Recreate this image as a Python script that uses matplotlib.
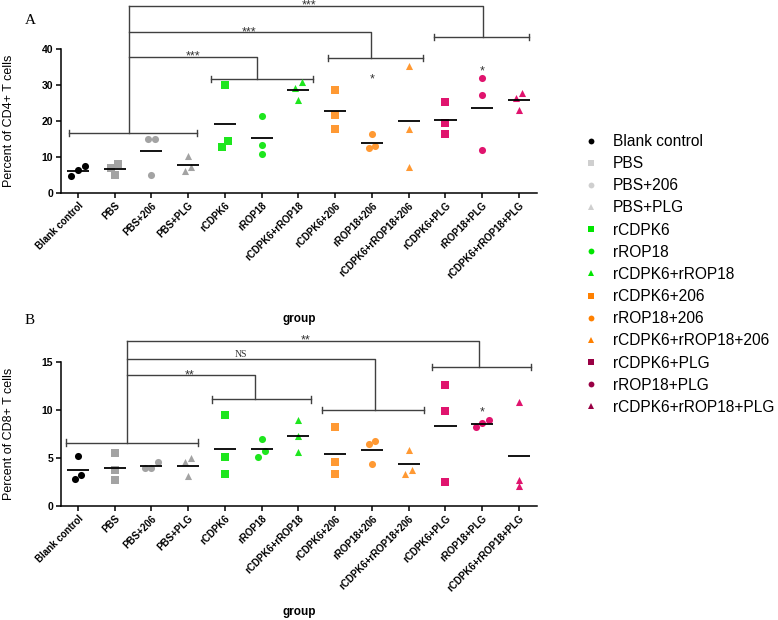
import matplotlib.pyplot as plt
import numpy as np
from matplotlib.lines import Line2D

plt.rcParams['font.family'] = ['Liberation Sans', 'DejaVu Sans']

groups = ['Blank control', 'PBS', 'PBS+206', 'PBS+PLG', 'rCDPK6', 'rROP18',
          'rCDPK6+rROP18', 'rCDPK6+206', 'rROP18+206', 'rCDPK6+rROP18+206',
          'rCDPK6+PLG', 'rROP18+PLG', 'rCDPK6+rROP18+PLG']

# percent of CD4+ T cells, 3 mice per group
cd4 = [[4.7, 6.3, 7.4], [5.0, 6.85, 8.1], [5.1, 14.9, 14.9], [6.2, 7.1, 10.2],
       [12.8, 14.4, 30.0], [10.9, 13.3, 21.4], [25.8, 29.3, 30.7],
       [17.8, 21.8, 28.6], [12.4, 13.1, 16.3], [7.3, 17.7, 35.4],
       [16.3, 19.5, 25.4], [12.0, 27.3, 31.9], [23.1, 26.5, 27.9]]

# percent of CD8+ T cells
cd8 = [[2.8, 3.2, 5.2], [2.7, 3.76, 5.5], [4.0, 4.0, 4.6], [3.1, 4.55, 5.0],
       [3.3, 5.1, 9.5], [5.1, 5.7, 7.0], [5.6, 7.27, 9.0],
       [3.37, 4.55, 8.2], [4.38, 6.5, 6.75], [3.3, 3.8, 5.88],
       [2.47, 9.9, 12.6], [8.2, 8.6, 8.94], [2.1, 2.75, 10.8]]

# group brackets (x from, x to, y) - first one is the control bracket
brackets_a = [(-0.25, 3.25, 16.7), (3.62, 6.39, 31.6), (6.80, 9.39, 37.5),
              (9.69, 12.27, 43.3)]
# links from the control stem: (x of drop, y, label, label x)
links_a = [(4.87, 37.8, '***', 3.13), (7.97, 44.7, '***', 4.65),
           (11.02, 52.0, '***', 6.3)]
stars_a = [(8, 31.6), (11, 33.8)]

brackets_b = [(-0.33, 3.26, 6.6), (3.65, 6.34, 11.1), (6.63, 9.41, 10.0),
              (9.64, 12.32, 14.5)]
links_b = [(4.82, 13.6, '**', 3.05), (8.09, 15.3, 'NS', 4.43),
           (10.9, 17.2, '**', 6.2)]
stars_b = [(11, 9.7)]

markers = ['o', 's', 'o', '^'] + ['s', 'o', '^'] * 3
colors = ['black'] + ['#a3a3a3'] * 3 + ['#1ee61e'] * 3 + ['#ff9933'] * 3 \
    + ['#e0146e'] * 3
legend_colors = ['black'] + ['#cfcfcf'] * 3 + ['#00e600'] * 3 \
    + ['#ff8000'] * 3 + ['#990044'] * 3


def swarm(vals, gap, step=0.18):
    # spread points that would overlap, like a prism scatter
    order = np.argsort(vals)
    v = np.asarray(vals)[order]
    offs = np.zeros(len(v))
    start = 0
    for k in range(1, len(v) + 1):
        if k == len(v) or v[k] - v[k - 1] > gap:
            n = k - start
            offs[start:k] = (np.arange(n) - (n - 1) / 2) * step
            start = k
    out = np.empty(len(v))
    out[order] = offs
    return out


def panel(ax, data, top, yticks, ylabel, gap, brackets, links, stars,
          xlab_y):
    for i, vals in enumerate(data):
        x = i + swarm(vals, gap)
        ax.scatter(x, vals, marker=markers[i], color=colors[i], s=26,
                   linewidths=0, zorder=3, clip_on=False)
        ax.hlines(np.mean(vals), i - 0.3, i + 0.3, color='black', lw=1.3,
                  zorder=4)

    ax.set_xlim(-0.46, 12.49)
    ax.set_ylim(0, top)
    ax.set_yticks(yticks)
    ax.set_xticks(range(len(groups)))
    ax.set_xticklabels(groups, rotation=45, ha='right',
                       rotation_mode='anchor', fontweight='bold', fontsize=7)
    for lab in ax.get_yticklabels():
        lab.set_fontweight('bold')
        lab.set_fontsize(7.5)
    ax.tick_params(width=1.1, length=3.5, pad=2)
    for s in ['top', 'right']:
        ax.spines[s].set_visible(False)
    for s in ['left', 'bottom']:
        ax.spines[s].set_linewidth(1.1)
    ax.set_ylabel(ylabel, fontsize=9)
    ax.yaxis.set_label_coords(-0.097, 0.5)
    ax.set_xlabel('group', fontsize=8.5, fontweight='bold')
    ax.xaxis.set_label_coords(0.5, xlab_y)

    # significance brackets
    kw = dict(color='#404040', lw=1.0, clip_on=False, zorder=2)
    cap = top * 0.022
    for x0, x1, y in brackets:
        ax.plot([x0, x1], [y, y], **kw)
        ax.plot([x0, x0], [y - cap, y + cap], **kw)
        ax.plot([x1, x1], [y - cap, y + cap], **kw)
    stem_x = 1.38 if top > 20 else 1.33
    stem_top = max(l[1] for l in links)
    ax.plot([stem_x, stem_x], [brackets[0][2], stem_top], **kw)
    for (lx, ly, txt, tx), (x0, x1, by) in zip(links, brackets[1:]):
        ax.plot([stem_x, lx, lx], [ly, ly, by], **kw)
        if txt == 'NS':
            ax.text(tx, ly, txt, family='Liberation Serif', fontsize=7,
                    ha='center', va='bottom', color='#333333')
        else:
            ax.text(tx, ly, txt, fontsize=9, ha='center', va='center',
                    color='#333333')
    for gx, gy in stars:
        ax.text(gx, gy, '*', fontsize=9, ha='center', va='center',
                color='#333333')


fig = plt.figure(figsize=(7.78, 6.2), dpi=100)
ax_a = fig.add_axes([61 / 778, 1 - 193 / 620, 476 / 778, 144 / 620])
ax_b = fig.add_axes([61 / 778, 1 - 506 / 620, 476 / 778, 144 / 620])

panel(ax_a, cd4, 40, [0, 10, 20, 30, 40], 'Percent of CD4+ T cells', 1.7,
      brackets_a, links_a, stars_a, -0.83)
panel(ax_b, cd8, 15, [0, 5, 10, 15], 'Percent of CD8+ T cells', 0.62,
      brackets_b, links_b, stars_b, -0.695)

fig.text(30 / 778, 1 - 20 / 620, 'A', family='Liberation Serif', fontsize=11,
         ha='center', va='center')
fig.text(30 / 778, 1 - 321 / 620, 'B', family='Liberation Serif',
         fontsize=11, ha='center', va='center')

handles = [Line2D([], [], ls='none', marker=m, color=c, ms=4.2, mew=0)
           for m, c in zip(markers, legend_colors)]
fig.legend(handles, groups, loc='upper left',
           bbox_to_anchor=(583 / 778, 1 - 134 / 620), frameon=False,
           fontsize=11.2, handlelength=1.0, handletextpad=0.92,
           labelspacing=0.46, borderpad=0, borderaxespad=0)

fig.savefig('out.png', dpi=100)
